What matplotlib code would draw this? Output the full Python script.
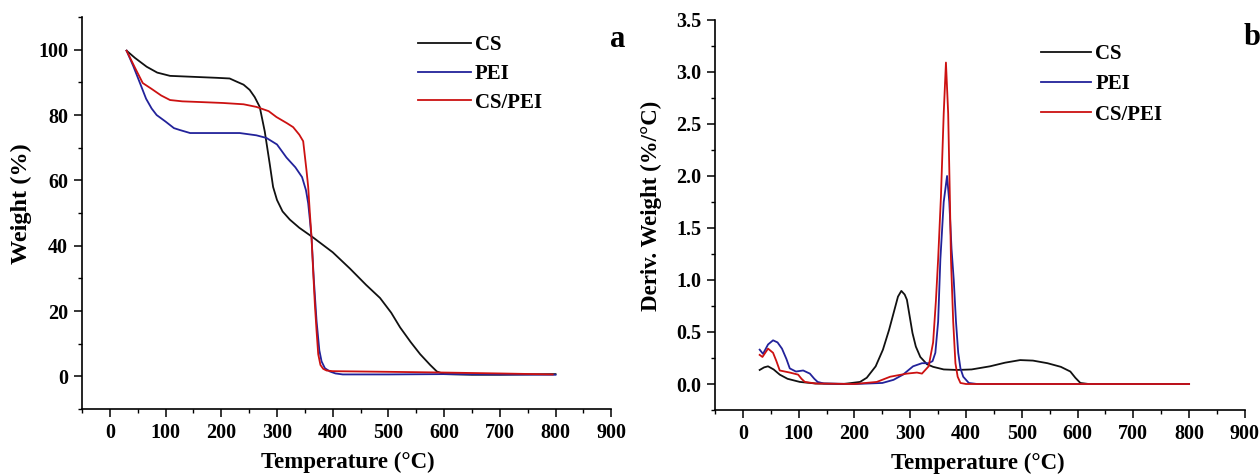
import matplotlib
matplotlib.use("Agg")
import matplotlib.pyplot as plt
from matplotlib.ticker import MultipleLocator, FormatStrFormatter

plt.rcParams['font.family'] = ['Liberation Serif', 'DejaVu Serif']
plt.rcParams['font.weight'] = 'bold'

# TGA: weight (%) vs temperature (C)
tga_cs_t = [30, 45, 66, 85, 108, 150, 192, 215, 228, 240, 251, 260, 269, 278, 287, 293,
            300, 310, 323, 340, 365, 400, 431, 460, 485, 505, 521, 540, 557, 575, 587,
            600, 650, 700, 750, 800]
tga_cs_w = [99.7, 97.5, 94.8, 93.0, 92.0, 91.7, 91.4, 91.2, 90.2, 89.3, 87.7, 85.5, 82.5, 75.0, 65.0, 58.0,
            54.0, 50.5, 48.0, 45.5, 42.5, 38.0, 33.0, 28.0, 24.0, 19.5, 15.0, 10.5, 6.8, 3.5, 1.5,
            0.7, 0.5, 0.5, 0.6, 0.7]

tga_pei_t = [30, 42, 54, 65, 75, 84, 100, 115, 126, 134, 144, 180, 233, 263, 281, 300, 317, 333,
             345, 352, 356, 359, 362, 366, 371, 376, 380, 386, 395, 405, 418, 500, 600, 700, 800]
tga_pei_w = [99.7, 95.0, 89.8, 85.0, 82.0, 80.0, 78.0, 76.0, 75.4, 75.0, 74.5, 74.5, 74.5, 73.8, 73.0, 71.0, 67.0, 64.0,
             61.0, 57.0, 53.0, 48.0, 42.5, 30.0, 17.0, 8.0, 4.6, 2.5, 1.5, 0.9, 0.6, 0.6, 0.7, 0.6, 0.5]

tga_blend_t = [30, 45, 59, 75, 92, 108, 130, 160, 203, 240, 263, 285, 299, 308, 318, 329, 340,
               347, 353, 356, 359, 362, 365, 368, 371, 374, 378, 383, 389, 400, 450, 500, 592, 700, 795]
tga_blend_w = [99.7, 94.5, 89.8, 88.0, 86.0, 84.6, 84.2, 84.0, 83.7, 83.3, 82.5, 81.2, 79.4, 78.5, 77.5, 76.3, 74.0,
               72.0, 63.0, 58.0, 50.0, 42.5, 32.0, 22.0, 14.0, 6.8, 3.5, 2.3, 1.8, 1.6, 1.5, 1.4, 1.2, 0.9, 0.6]

# DTG: derivative weight (%/C) vs temperature (C)
dtg_cs_t = [30, 38, 45, 55, 66, 80, 102, 130, 180, 210, 222, 238, 251, 262, 270, 278, 284, 290,
            294, 299, 304, 310, 318, 330, 341, 360, 384, 410, 443, 470, 497, 520, 546, 570, 587,
            596, 605, 620, 700, 800]
dtg_cs_d = [0.135, 0.16, 0.17, 0.14, 0.09, 0.05, 0.02, 0.005, 0.0, 0.02, 0.06, 0.17, 0.33, 0.52, 0.68, 0.84, 0.895, 0.86,
            0.81, 0.65, 0.49, 0.36, 0.26, 0.19, 0.165, 0.14, 0.135, 0.14, 0.17, 0.205, 0.23, 0.225, 0.2, 0.165, 0.12,
            0.06, 0.01, 0.0, 0.0, 0.0]

dtg_pei_t = [30, 36, 45, 54, 62, 70, 78, 84, 95, 108, 120, 128, 134, 145, 200, 250, 270, 287, 305,
             321, 333, 340, 345, 350, 354, 360, 366, 370, 374, 378, 382, 386, 390, 395, 405, 420, 600, 800]
dtg_pei_d = [0.33, 0.29, 0.38, 0.42, 0.40, 0.34, 0.24, 0.15, 0.12, 0.13, 0.10, 0.05, 0.02, 0.005, 0.0, 0.01, 0.04, 0.09, 0.17,
             0.20, 0.20, 0.22, 0.30, 0.60, 1.20, 1.75, 2.0, 1.75, 1.30, 1.0, 0.60, 0.30, 0.15, 0.07, 0.01, 0.0, 0.0, 0.0]

dtg_blend_t = [30, 35, 45, 54, 60, 66, 75, 84, 99, 105, 111, 130, 200, 240, 264, 294, 312, 321, 333,
               341, 346, 350, 355, 360, 364, 368, 371, 373, 377, 381, 385, 390, 400, 600, 800]
dtg_blend_d = [0.28, 0.26, 0.34, 0.30, 0.22, 0.13, 0.12, 0.11, 0.09, 0.05, 0.02, 0.005, 0.0, 0.02, 0.07, 0.10, 0.11, 0.10, 0.17,
               0.40, 0.80, 1.20, 1.80, 2.60, 3.09, 2.60, 1.80, 1.20, 0.60, 0.20, 0.07, 0.01, 0.0, 0.0, 0.0]

labels = ['CS', 'PEI', 'CS/PEI']
colors = ['#111111', '#22229a', '#cc1111']

fig = plt.figure(figsize=(12.6, 4.74), dpi=100)
ax1 = fig.add_axes([0.0651, 0.137, 0.42, 0.827])
ax2 = fig.add_axes([0.5675, 0.135, 0.4205, 0.823])


def style_axis(ax):
    for side in ['top', 'right']:
        ax.spines[side].set_visible(False)
    for side in ['left', 'bottom']:
        ax.spines[side].set_linewidth(1.2)
    ax.tick_params(which='major', direction='out', length=6, width=1.1, labelsize=14.5, pad=4)
    ax.tick_params(which='minor', direction='out', length=3, width=1.0)
    ax.xaxis.set_major_locator(MultipleLocator(100))
    ax.xaxis.set_minor_locator(MultipleLocator(50))
    ax.set_xlim(-50, 900)
    for lab in ax.get_xticklabels() + ax.get_yticklabels():
        lab.set_fontweight('bold')


# panel a
for t, w, lab, c in zip([tga_cs_t, tga_pei_t, tga_blend_t], [tga_cs_w, tga_pei_w, tga_blend_w], labels, colors):
    ax1.plot(t, w, color=c, lw=1.3, label=lab)
ax1.set_ylim(-10, 110)
ax1.yaxis.set_major_locator(MultipleLocator(20))
ax1.yaxis.set_minor_locator(MultipleLocator(10))
style_axis(ax1)
ax1.set_xlabel('Temperature (°C)', fontsize=16.5, fontweight='bold')
ax1.set_ylabel('Weight (%)', fontsize=17.5, fontweight='bold')
ax1.xaxis.set_label_coords(0.502, -0.108)
ax1.yaxis.set_label_coords(-0.094, 0.525)
ax1.legend(loc='upper left', bbox_to_anchor=(0.62, 0.975), frameon=False,
           handlelength=2.5, handletextpad=0.2, labelspacing=0.42, borderaxespad=0,
           prop={'weight': 'bold', 'size': 15})

# panel b
for t, d, lab, c in zip([dtg_cs_t, dtg_pei_t, dtg_blend_t], [dtg_cs_d, dtg_pei_d, dtg_blend_d], labels, colors):
    ax2.plot(t, d, color=c, lw=1.3, label=lab)
ax2.set_ylim(-0.25, 3.5)
ax2.yaxis.set_major_locator(MultipleLocator(0.5))
ax2.yaxis.set_minor_locator(MultipleLocator(0.25))
ax2.yaxis.set_major_formatter(FormatStrFormatter('%.1f'))
style_axis(ax2)
ax2.set_xlabel('Temperature (°C)', fontsize=16.5, fontweight='bold')
ax2.set_ylabel('Deriv. Weight (%/°C)', fontsize=16.5, fontweight='bold')
ax2.xaxis.set_label_coords(0.496, -0.11)
ax2.yaxis.set_label_coords(-0.1, 0.523)
ax2.legend(loc='upper left', bbox_to_anchor=(0.6, 0.96), frameon=False,
           handlelength=2.4, handletextpad=0.2, labelspacing=0.5, borderaxespad=0,
           prop={'weight': 'bold', 'size': 15})

fig.text(0.484, 0.90, 'a', fontsize=22, fontweight='bold')
fig.text(0.987, 0.905, 'b', fontsize=22, fontweight='bold')

fig.savefig('out.png', dpi=100)
